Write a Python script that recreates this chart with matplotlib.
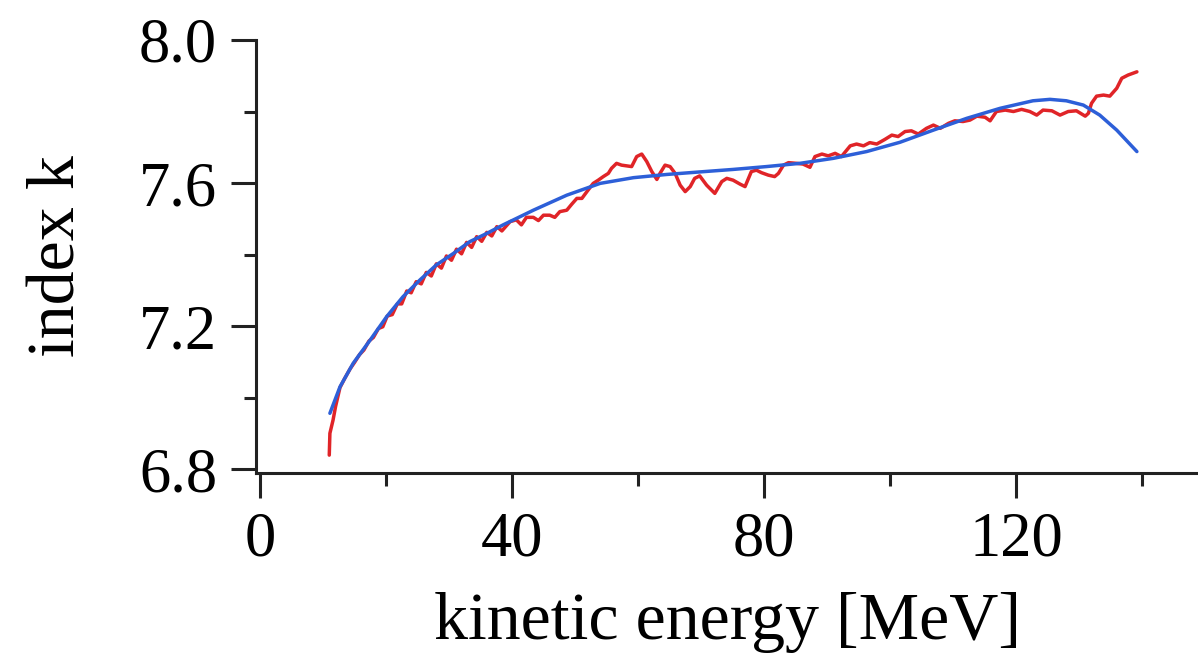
import matplotlib
matplotlib.use("Agg")
import matplotlib.pyplot as plt
from matplotlib.ticker import MultipleLocator

# ---- data ----
fit_energy = [11.1, 12.7, 14.8, 17.5, 20.1, 22.7, 25.4, 28.0, 30.7, 33.3, 36.0, 38.6,
              41.3, 43.4, 48.7, 54.0, 59.3, 64.6, 69.8, 75.1, 80.4, 85.7, 91.0, 96.3,
              101.6, 106.9, 112.2, 117.5, 122.7, 125.4, 128.0, 130.7, 133.3, 136.0, 139.2]
fit_index = [6.956, 7.030, 7.096, 7.161, 7.226, 7.282, 7.329, 7.371, 7.403, 7.436, 7.459, 7.483,
             7.506, 7.524, 7.566, 7.599, 7.615, 7.624, 7.631, 7.638, 7.646, 7.655, 7.669, 7.688,
             7.714, 7.748, 7.781, 7.809, 7.830, 7.834, 7.830, 7.818, 7.790, 7.748, 7.688]

meas_energy = [11.0, 11.1, 11.6, 12.0, 12.7, 13.5, 14.3, 15.0, 15.8, 16.5, 17.3, 18.0,
               18.8, 19.5, 20.2, 21.0, 21.8, 22.5, 23.3, 24.0, 24.8, 25.6, 26.4, 27.2,
               28.0, 28.8, 29.6, 30.4, 31.2, 32.0, 32.8, 33.6, 34.4, 35.2, 36.0, 36.8,
               37.6, 38.4, 39.7, 40.7, 41.5, 42.3, 43.4, 44.2, 45.0, 46.0, 46.8, 47.6,
               48.7, 49.5, 50.3, 51.1, 51.9, 52.9, 53.7, 54.5, 55.3, 55.8, 56.6, 57.4,
               58.2, 59.0, 59.8, 60.6, 61.4, 62.2, 63.0, 63.5, 64.3, 65.1, 65.9, 66.7,
               67.5, 68.3, 69.0, 69.8, 70.9, 72.2, 73.3, 74.1, 75.1, 76.2, 77.0, 78.0,
               78.8, 79.6, 80.7, 81.7, 82.3, 83.1, 83.9, 85.2, 86.2, 87.3, 88.1, 89.2,
               90.2, 91.3, 92.3, 93.7, 94.7, 95.8, 96.8, 97.9, 99.2, 100.3, 101.3, 102.4,
               103.4, 104.5, 105.8, 106.9, 108.0, 109.3, 110.3, 111.6, 112.7, 113.8, 115.1, 115.9,
               116.9, 118.3, 119.6, 120.9, 122.2, 123.3, 124.3, 125.7, 127.0, 128.3, 129.6, 131.0,
               131.5, 132.0, 132.8, 133.9, 134.9, 136.0, 136.8, 137.8, 139.2]
meas_index = [6.839, 6.900, 6.937, 6.975, 7.028, 7.055, 7.080, 7.098, 7.120, 7.133, 7.158, 7.168,
              7.193, 7.198, 7.228, 7.232, 7.262, 7.262, 7.298, 7.293, 7.324, 7.318, 7.350, 7.340,
              7.374, 7.362, 7.396, 7.384, 7.415, 7.402, 7.434, 7.420, 7.450, 7.437, 7.462, 7.452,
              7.478, 7.466, 7.492, 7.497, 7.483, 7.504, 7.504, 7.495, 7.510, 7.510, 7.504, 7.520,
              7.524, 7.541, 7.557, 7.557, 7.576, 7.599, 7.608, 7.618, 7.627, 7.641, 7.655, 7.650,
              7.648, 7.646, 7.674, 7.681, 7.660, 7.632, 7.610, 7.627, 7.650, 7.646, 7.627, 7.594,
              7.576, 7.590, 7.613, 7.620, 7.594, 7.571, 7.604, 7.613, 7.608, 7.597, 7.590, 7.632,
              7.636, 7.629, 7.622, 7.618, 7.627, 7.650, 7.657, 7.655, 7.653, 7.644, 7.674, 7.681,
              7.676, 7.683, 7.674, 7.704, 7.709, 7.704, 7.713, 7.709, 7.722, 7.734, 7.730, 7.744,
              7.746, 7.737, 7.753, 7.762, 7.753, 7.767, 7.774, 7.772, 7.776, 7.787, 7.784, 7.774,
              7.800, 7.804, 7.800, 7.806, 7.800, 7.790, 7.804, 7.802, 7.790, 7.800, 7.802, 7.787,
              7.795, 7.823, 7.843, 7.846, 7.843, 7.865, 7.893, 7.902, 7.911]

x_major = [0, 40, 80, 120]
y_major = [6.8, 7.2, 7.6, 8.0]
x_label = "kinetic energy [MeV]"
y_label = "index k"

# ---- figure ----
plt.rcParams['font.family'] = ['Liberation Serif', 'DejaVu Serif']
fig = plt.figure(figsize=(11.98, 6.69), dpi=100)
ax = fig.add_axes([256/1198, 1 - 473/669, 1 - 256/1198, (473 - 40)/669])

ax.plot(meas_energy, meas_index, color='#e02428', lw=2.5, solid_capstyle='round',
        solid_joinstyle='round', zorder=2)
ax.plot(fit_energy, fit_index, color='#2d5fd8', lw=2.5, solid_capstyle='round',
        solid_joinstyle='round', zorder=3)

ax.set_xlim(-0.63, 148.9)
ax.set_ylim(6.789, 8.0)

for s in ['top', 'right']:
    ax.spines[s].set_visible(False)
for s in ['left', 'bottom']:
    ax.spines[s].set_linewidth(2.2)
    ax.spines[s].set_color('#222222')

ax.set_xticks(x_major)
ax.set_yticks(y_major)
ax.set_xticklabels([str(v) for v in x_major])
ax.set_yticklabels([f"{v:.1f}" for v in y_major])
ax.xaxis.set_minor_locator(MultipleLocator(20))
ax.yaxis.set_minor_locator(MultipleLocator(0.2))
ax.tick_params(which='major', direction='out', length=18, width=2.2, color='#222222',
               labelsize=45, pad=10)
ax.tick_params(which='minor', direction='out', length=9, width=2.2, color='#222222')

ax.set_xlabel(x_label, fontsize=49, labelpad=16)
ax.set_ylabel(y_label, fontsize=49, labelpad=36)

fig.savefig("out.png", dpi=100)
